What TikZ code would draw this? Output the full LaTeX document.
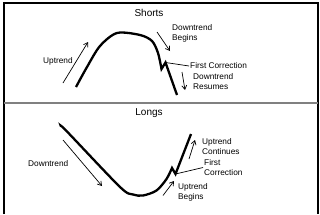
\documentclass[tikz,border=0pt]{standalone}
\usepackage{fontspec}
\setmainfont{Liberation Sans}
\usetikzlibrary{arrows.meta}

\tikzset{
  trend/.style={line width=2.3pt, line join=miter},
  hint/.style={line width=0.7pt, -{Straight Barb[length=4pt,width=5pt]}},
  lbl/.style={inner sep=0pt, anchor=west, align=left, font=\fontsize{8.3}{10}\selectfont},
  ttl/.style={inner sep=0pt, font=\fontsize{10}{12}\selectfont},
}

\begin{document}
\begin{tikzpicture}[x=1pt, y=-1pt]
  \useasboundingbox (0,0) rectangle (320,214);
  % frame
  \draw[line width=2pt] (4,214) -- (4,3) -- (318,3) -- (318,214);
  \draw[line width=1.8pt, gray] (4,103) -- (318,103);

  % Shorts
  \begin{scope}
  \node[ttl] (shorts) at (149,13) {Shorts};
  \draw[trend] plot[smooth] coordinates {(76,87) (87,67) (100,46) (117,33) (140,35) (152,41) (158,53) (161.5,69)}
        -- (165.5,62.5) coordinate (zigS) -- (177,95);
  \node[lbl] (upS) at (43,61) {Uptrend};
  \draw[hint] (63,83) -- (88,42);
  \node[lbl] (dnbeg) at (172,33) {Downtrend\\Begins};
  \draw[hint] (157,32) -- (170,51);
  \node[lbl, inner sep=1pt] (fcS) at (189,66) {First Correction};
  \draw[line width=0.7pt] (zigS) -- (fcS.west);
  \node[lbl] (dnres) at (193,82) {Downtrend\\Resumes};
  \draw[hint] (182,72) -- (185,90);
  \end{scope}

  % Longs
  \begin{scope}
  \node[ttl] (longs) at (149,113) {Longs};
  \draw[trend] plot[smooth] coordinates {(61,126.5) (66.5,131) (120,187) (133,194.5) (143,195.5) (156.5,190.5) (166.5,179) (172,168)}
        -- (175.5,174) coordinate (zigL) -- (191,134);
  \node[lbl] (dnL) at (28,164) {Downtrend};
  \draw[hint] (63,140) -- (102,186);
  \node[lbl] (upcont) at (202,147) {Uptrend\\Continues};
  \draw[hint] (189,159) -- (195,140);
  \node[lbl, inner sep=1pt] (fcL) at (203,167.5) {First\\Correction};
  \draw[line width=0.7pt] (zigL) -- (fcL.west);
  \node[lbl] (upbeg) at (178,192) {Uptrend\\Begins};
  \draw[hint] (163,195.5) -- (174,181);
  \end{scope}
\end{tikzpicture}
\end{document}
